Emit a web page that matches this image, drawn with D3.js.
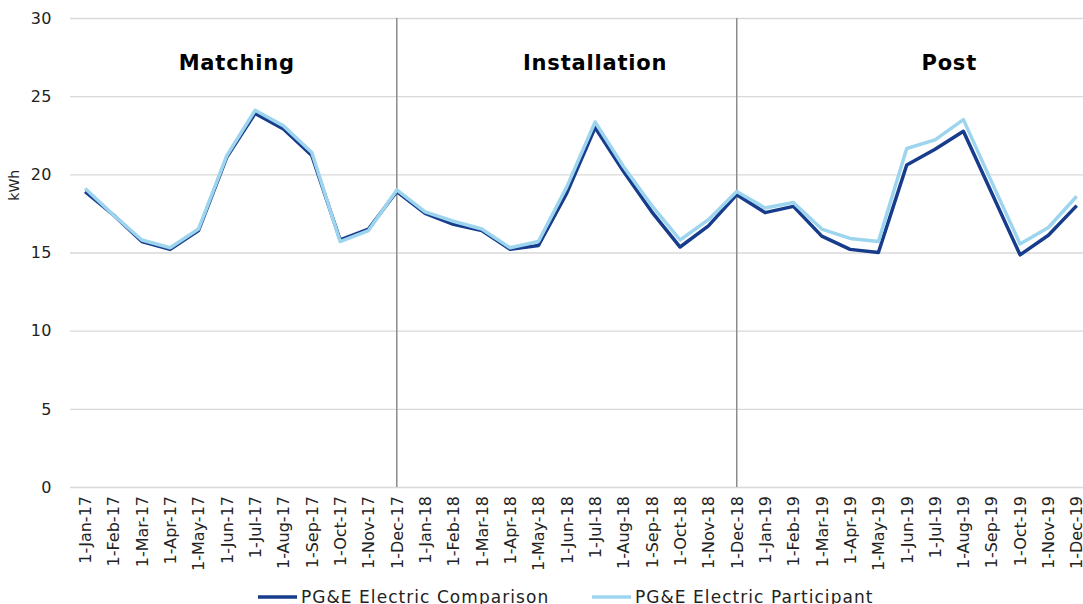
<!DOCTYPE html>
<html>
<head>
<meta charset="utf-8">
<script src="https://cdn.jsdelivr.net/npm/d3@7"></script>
<style>
  body { margin: 0; background: white; }
  svg { display: block; font-family: "DejaVu Sans", Verdana, sans-serif; }
</style>
</head>
<body>
<script>
var months = ["1-Jan-17","1-Feb-17","1-Mar-17","1-Apr-17","1-May-17","1-Jun-17","1-Jul-17","1-Aug-17","1-Sep-17","1-Oct-17","1-Nov-17","1-Dec-17",
              "1-Jan-18","1-Feb-18","1-Mar-18","1-Apr-18","1-May-18","1-Jun-18","1-Jul-18","1-Aug-18","1-Sep-18","1-Oct-18","1-Nov-18","1-Dec-18",
              "1-Jan-19","1-Feb-19","1-Mar-19","1-Apr-19","1-May-19","1-Jun-19","1-Jul-19","1-Aug-19","1-Sep-19","1-Oct-19","1-Nov-19","1-Dec-19"]

var comparison = [18.9, 17.4, 15.7, 15.2, 16.4, 21.1, 23.9, 22.9, 21.2, 15.8, 16.5, 18.9,
                  17.5, 16.8, 16.4, 15.2, 15.45, 18.8, 23.0, 20.2, 17.6, 15.35, 16.7, 18.7,
                  17.55, 17.95, 16.05, 15.2, 15.0, 20.6, 21.6, 22.75, 18.8, 14.85, 16.1, 18.0]

var participant = [19.1, 17.4, 15.8, 15.3, 16.5, 21.2, 24.1, 23.1, 21.4, 15.7, 16.4, 19.0,
                   17.6, 17.0, 16.5, 15.3, 15.7, 19.2, 23.35, 20.5, 18.0, 15.8, 17.1, 18.9,
                   17.85, 18.2, 16.5, 15.9, 15.7, 21.65, 22.2, 23.5, 19.5, 15.55, 16.6, 18.6]

var yTicks = [0, 5, 10, 15, 20, 25, 30]
// phase titles, placed at a (fractional) month position
var phaseNames = ["Matching", "Installation", "Post"]
var phasePos = [5.35, 18, 30.5]
var dividers = ["1-Dec-17", "1-Dec-18"]
var seriesNames = ["PG&E Electric Comparison", "PG&E Electric Participant"]

var width = 1083
var height = 604
var darkColor = "#173c8c"
var lightColor = "#9dd5ef"
var gridColor = "#d9d9d9"

var svg = d3.select("body")
    .append("svg")
    .attr("width", width)
    .attr("height", height)

var x = d3.scaleBand()
    .domain(months)
    .range([71, 71 + 36 * 28.33])

var y = d3.scaleLinear()
    .domain([0, 30])
    .range([487, 18])

function cx(m) { return x(m) + x.bandwidth() / 2 }

// horizontal gridlines
svg.append("g")
    .selectAll("line")
    .data(yTicks)
    .enter()
    .append("line")
    .attr("x1", 70)
    .attr("x2", width)
    .attr("y1", (d) => y(d) + 0.5)
    .attr("y2", (d) => y(d) + 0.5)
    .attr("stroke", gridColor)
    .attr("stroke-width", 1.3)

// y tick labels
svg.append("g")
    .selectAll("text")
    .data(yTicks)
    .enter()
    .append("text")
    .attr("x", 52)
    .attr("y", (d) => y(d))
    .attr("dy", "0.36em")
    .attr("text-anchor", "end")
    .style("font-size", "16px")
    .style("letter-spacing", "0.5px")
    .attr("fill", "#222")
    .text((d) => d)

svg.append("text")
    .attr("transform", "translate(19," + y(19.3) + ") rotate(-90)")
    .attr("text-anchor", "middle")
    .style("font-size", "14px")
    .attr("fill", "#222")
    .text("kWh")

// phase dividers
svg.append("g")
    .selectAll("line")
    .data(dividers)
    .enter()
    .append("line")
    .attr("x1", (d) => cx(d))
    .attr("x2", (d) => cx(d))
    .attr("y1", y(30))
    .attr("y2", y(0))
    .attr("stroke", "#8c8c8c")
    .attr("stroke-width", 1.5)

// phase titles
svg.append("g")
    .selectAll("text")
    .data(phaseNames)
    .enter()
    .append("text")
    .attr("x", (d, i) => x.range()[0] + (phasePos[i] + 0.5) * x.step())
    .attr("y", 70)
    .attr("text-anchor", "middle")
    .style("font-size", "21px")
    .style("font-weight", "bold")
    .style("letter-spacing", "0.8px")
    .attr("fill", "#000")
    .text((d) => d)

// x tick labels
svg.append("g")
    .selectAll("text")
    .data(months)
    .enter()
    .append("text")
    .attr("transform", (d) => "translate(" + cx(d) + ",496) rotate(-90)")
    .attr("dy", "0.36em")
    .attr("text-anchor", "end")
    .style("font-size", "16px")
    .attr("fill", "#222")
    .text((d) => d)

var line = d3.line()
    .x((d, i) => cx(months[i]))
    .y((d) => y(d))

svg.append("path")
    .datum(comparison)
    .attr("d", line)
    .attr("fill", "none")
    .attr("stroke", darkColor)
    .attr("stroke-width", 3.5)
    .attr("stroke-linejoin", "round")

svg.append("path")
    .datum(participant)
    .attr("d", line)
    .attr("fill", "none")
    .attr("stroke", lightColor)
    .attr("stroke-width", 3.5)
    .attr("stroke-linejoin", "round")

// legend
var legend = svg.append("g")
    .selectAll("g")
    .data(seriesNames)
    .enter()
    .append("g")
    .attr("transform", (d, i) => "translate(" + (258 + i * 334) + ",597)")

legend.append("line")
    .attr("x1", 0)
    .attr("x2", 39)
    .attr("stroke", (d, i) => i === 0 ? darkColor : lightColor)
    .attr("stroke-width", 3.5)

legend.append("text")
    .attr("x", 43)
    .attr("dy", "0.36em")
    .style("font-size", "17px")
    .style("letter-spacing", "1.05px")
    .attr("fill", "#222")
    .text((d) => d)
</script>
</body>
</html>
